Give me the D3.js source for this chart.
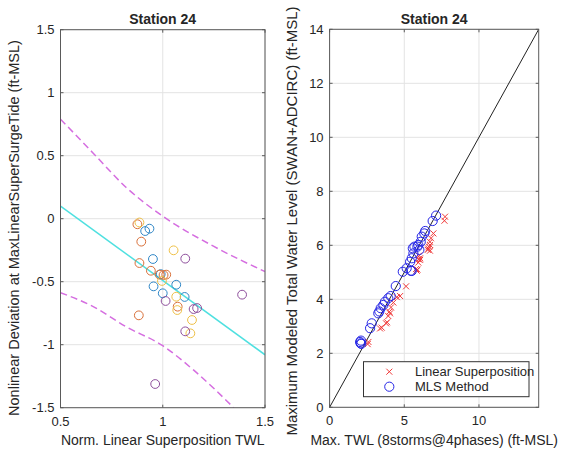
<!DOCTYPE html>
<html><head><meta charset="utf-8">
<script src="https://cdn.jsdelivr.net/npm/d3@7"></script>
<style>body{margin:0;background:#fff}svg{display:block}text{font-family:"Liberation Sans",Arial,sans-serif;fill:#262626}</style>
</head><body><svg id="c" width="565" height="449"></svg>
<script>
// ---- Left panel data ----
const leftTitle = "Station 24";
const leftXTicks = [0.5, 1, 1.5];
const leftYTicks = [-1.5, -1, -0.5, 0, 0.5, 1, 1.5];
const ptsBlue   = [[0.914,-0.098],[0.935,-0.079],[0.952,-0.32],[1.066,-0.524],[0.955,-0.537],[1.0,-0.592],[1.107,-0.621],[0.99,-0.44]];
const ptsOrange = [[0.876,-0.044],[0.895,-0.182],[0.886,-0.352],[0.942,-0.413],[0.985,-0.444],[1.004,-0.447],[1.017,-0.444],[1.073,-0.698],[0.883,-0.767]];
const ptsYellow = [[0.886,-0.03],[1.053,-0.251],[0.996,-0.494],[1.066,-0.619],[1.071,-0.725],[1.143,-0.804],[1.135,-0.91]];
const ptsPurple = [[1.11,-0.317],[1.388,-0.603],[1.014,-0.653],[1.151,-0.717],[1.168,-0.709],[1.11,-0.894],[0.963,-1.312]];
const fitLine   = [[0.5,0.1],[1.5,-1.08]];
const upperBand = [[0.5,0.79],[0.66,0.52],[0.82,0.25],[1.0,0.02],[1.25,-0.22],[1.5,-0.42]];
const lowerBand = [[0.5,-0.587],[0.66,-0.698],[0.82,-0.857],[1.0,-1.008],[1.15,-1.2],[1.347,-1.5]];

// ---- Right panel data ----
const rightTitle = "Station 24";
const rightXTicks = [0, 5, 10];
const rightYTicks = [0, 2, 4, 6, 8, 10, 12, 14];
const linearSup = [[2.55,2.34],[2.6,2.42],[3.38,2.92],[3.49,2.95],[3.78,3.11],[3.85,3.15],[3.93,3.38],[4.0,3.54],[4.05,3.48],[4.11,3.7],[4.27,3.88],[4.5,4.08],[4.72,4.12],[5.12,4.48],[5.83,5.06],[5.88,5.1],[5.79,5.12],[5.94,5.36],[6.06,5.46],[6.06,5.52],[6.57,5.83],[6.72,5.8],[6.61,5.88],[6.72,6.01],[6.72,6.13],[6.79,6.26],[6.95,6.44],[7.69,6.91],[7.73,7.06],[6.0,5.62],[5.95,5.48],[6.65,5.95]];
const mlsMethod = [[2.04,2.42],[2.08,2.37],[2.1,2.47],[2.12,2.35],[2.71,2.93],[2.82,3.11],[3.26,3.48],[3.33,3.55],[3.42,3.67],[3.6,3.79],[3.71,3.91],[3.93,4.04],[4.09,4.12],[4.43,4.49],[4.9,5.02],[5.16,5.15],[5.43,5.06],[5.5,5.05],[5.39,5.39],[5.5,5.52],[5.61,5.7],[5.57,5.89],[5.68,5.95],[5.88,5.95],[6.01,5.83],[5.94,6.01],[6.1,6.13],[6.17,6.32],[6.34,6.44],[6.4,6.53],[6.9,6.9],[7.13,7.1]];
const diagLine = [[0,0],[14,14]];
const legendLabels = ["Linear Superposition", "MLS Method"];

const svg = d3.select("#c");
const gridCol = "#e3e3e3", boxCol = "#5a5a5a";
const tickFs = 13, labFs = 14.5, titFs = 14;

function axesFrame(x, y, xt, yt) {
  const [x0, x1] = x.range(), [y1, y0] = y.range();
  const g = svg.append("g");
  g.selectAll(".gx").data(xt).join("line").attr("x1", d=>x(d)).attr("x2", d=>x(d)).attr("y1", y0).attr("y2", y1).attr("stroke", gridCol);
  g.selectAll(".gy").data(yt).join("line").attr("y1", d=>y(d)).attr("y2", d=>y(d)).attr("x1", x0).attr("x2", x1).attr("stroke", gridCol);
  const tl = 3;
  xt.forEach(d => {
    g.append("line").attr("x1", x(d)).attr("x2", x(d)).attr("y1", y1).attr("y2", y1 - tl).attr("stroke", boxCol);
    g.append("line").attr("x1", x(d)).attr("x2", x(d)).attr("y1", y0).attr("y2", y0 + tl).attr("stroke", boxCol);
    g.append("text").attr("x", x(d)).attr("y", y1 + 18).attr("text-anchor", "middle").attr("font-size", tickFs).text(String(d));
  });
  yt.forEach(d => {
    g.append("line").attr("y1", y(d)).attr("y2", y(d)).attr("x1", x0).attr("x2", x0 + tl).attr("stroke", boxCol);
    g.append("line").attr("y1", y(d)).attr("y2", y(d)).attr("x1", x1).attr("x2", x1 - tl).attr("stroke", boxCol);
    g.append("text").attr("x", x0 - 6).attr("y", y(d) + 4.7).attr("text-anchor", "end").attr("font-size", tickFs).text(String(d));
  });
}
function frameBox(x, y) {
  const [x0, x1] = x.range(), [y1, y0] = y.range();
  svg.append("rect").attr("x", x0).attr("y", y0).attr("width", x1 - x0).attr("height", y1 - y0).attr("fill", "none").attr("stroke", boxCol).attr("stroke-width", 1);
}

// ---------- Left ----------
const xL = d3.scaleLinear().domain([0.5, 1.5]).range([60.5, 265]);
const yL = d3.scaleLinear().domain([-1.5, 1.5]).range([407.7, 29.7]);
axesFrame(xL, yL, leftXTicks, leftYTicks);
svg.append("clipPath").attr("id", "clipL").append("rect").attr("x", 60.5).attr("y", 29.7).attr("width", 204.5).attr("height", 378);
const gL = svg.append("g").attr("clip-path", "url(#clipL)");
const lineL = d3.line().x(d => xL(d[0])).y(d => yL(d[1])).curve(d3.curveMonotoneX);
gL.append("path").attr("d", lineL(fitLine)).attr("fill", "none").attr("stroke", "#4fe0e0").attr("stroke-width", 1.5);
[upperBand, lowerBand].forEach(b => gL.append("path").attr("d", lineL(b)).attr("fill", "none").attr("stroke", "#d56ee0").attr("stroke-width", 1.5).attr("stroke-dasharray", "7,4"));
const groups = [[ptsBlue, "#2f86c6"], [ptsOrange, "#d9703a"], [ptsYellow, "#eec048"], [ptsPurple, "#8e4f9c"]];
groups.forEach(([pts, col]) => gL.selectAll(null).data(pts).join("circle").attr("cx", d => xL(d[0])).attr("cy", d => yL(d[1])).attr("r", 4.4).attr("fill", "none").attr("stroke", col).attr("stroke-width", 1));
frameBox(xL, yL);
svg.append("text").attr("x", 162.7).attr("y", 24).attr("text-anchor", "middle").attr("font-weight", "bold").attr("font-size", titFs).text(leftTitle);
svg.append("text").attr("x", 162.7).attr("y", 445).attr("text-anchor", "middle").attr("font-size", 14).text("Norm. Linear Superposition TWL");
svg.append("text").attr("transform", "translate(19,228) rotate(-90)").attr("text-anchor", "middle").attr("font-size", labFs).text("Nonlinear Deviation at MaxLinearSuperSurgeTide (ft-MSL)");

// ---------- Right ----------
const xR = d3.scaleLinear().domain([0, 14]).range([329.6, 538.7]);
const yR = d3.scaleLinear().domain([0, 14]).range([407.3, 29.3]);
axesFrame(xR, yR, rightXTicks, rightYTicks);
const gR = svg.append("g");
gR.append("path").attr("d", d3.line().x(d => xR(d[0])).y(d => yR(d[1]))(diagLine)).attr("stroke", "#222").attr("stroke-width", 1).attr("fill", "none");
const xs = 3;
const crossPath = (cx, cy) => `M${cx-xs},${cy-xs}L${cx+xs},${cy+xs}M${cx-xs},${cy+xs}L${cx+xs},${cy-xs}`;
gR.selectAll(null).data(linearSup).join("path")
  .attr("d", d => crossPath(xR(d[0]), yR(d[1])))
  .attr("stroke", "#f03a3a").attr("stroke-width", 1).attr("fill", "none");
gR.selectAll(null).data(mlsMethod).join("circle").attr("cx", d => xR(d[0])).attr("cy", d => yR(d[1])).attr("r", 4.6).attr("fill", "none").attr("stroke", "#2626e6").attr("stroke-width", 1);
frameBox(xR, yR);
// legend
const lg = svg.append("g");
lg.append("rect").attr("x", 363.5).attr("y", 361.7).attr("width", 165.5).attr("height", 35).attr("fill", "#fff").attr("stroke", "#333").attr("stroke-width", 1);
const lx = 389.3;
lg.append("path").attr("d", crossPath(lx, 371.7)).attr("stroke", "#f03a3a").attr("fill", "none");
lg.append("circle").attr("cx", lx).attr("cy", 386.7).attr("r", 4.6).attr("fill", "none").attr("stroke", "#2626e6");
lg.append("text").attr("x", 415).attr("y", 376.3).attr("font-size", 13).text(legendLabels[0]);
lg.append("text").attr("x", 415).attr("y", 391.3).attr("font-size", 13).text(legendLabels[1]);
svg.append("text").attr("x", 434.2).attr("y", 24).attr("text-anchor", "middle").attr("font-weight", "bold").attr("font-size", titFs).text(rightTitle);
svg.append("text").attr("x", 434.2).attr("y", 445).attr("text-anchor", "middle").attr("font-size", 14).text("Max. TWL (8storms@4phases) (ft-MSL)");
svg.append("text").attr("transform", "translate(297,221) rotate(-90)").attr("text-anchor", "middle").attr("font-size", 15).text("Maximum Modeled Total Water Level (SWAN+ADCIRC) (ft-MSL)");
</script></body></html>
